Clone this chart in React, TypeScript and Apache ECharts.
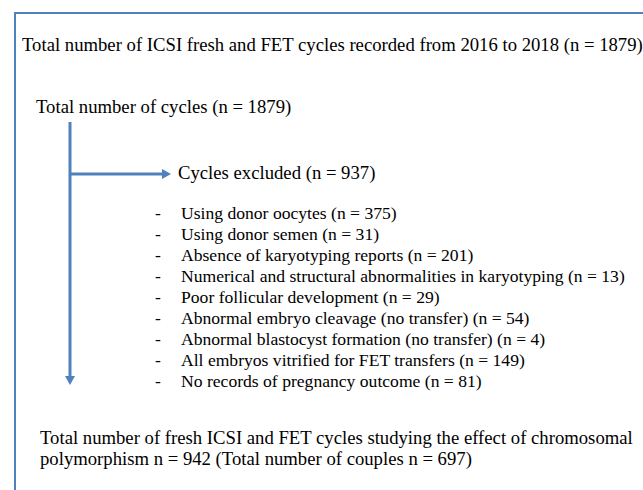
import React, { useEffect, useRef } from "react";
import * as echarts from "echarts";

const titleText = "Total number of ICSI fresh and FET cycles recorded from 2016 to 2018 (n = 1879)";
const totalText = "Total number of cycles (n = 1879)";
const excludedText = "Cycles excluded (n = 937)";
const exclusionReasons = [
  "Using donor oocytes",
  "Using donor semen",
  "Absence of karyotyping reports",
  "Numerical and structural abnormalities in karyotyping",
  "Poor follicular development",
  "Abnormal embryo cleavage (no transfer)",
  "Abnormal blastocyst formation (no transfer)",
  "All embryos vitrified for FET transfers",
  "No records of pregnancy outcome",
];
const exclusionCounts = [375, 31, 201, 13, 29, 54, 4, 149, 81];
const finalLines = [
  "Total number of fresh ICSI and FET cycles studying the effect of chromosomal",
  "polymorphism n = 942 (Total number of couples n = 697)",
];

const FONT = "'Liberation Serif', serif";
const FS_HEAD = 18.7;
const FS_LIST = 17.6;
const BLUE = "#4f81bd";

export default function App() {
  const ref = useRef<HTMLDivElement>(null);
  useEffect(() => {
    if (!ref.current) return;
    const chart = echarts.init(ref.current, undefined, { renderer: "svg" });
    const txt = (x: number, y: number, s: string, fs: number) => ({
      type: "text",
      x,
      y,
      style: { text: s, font: `${fs}px ${FONT}`, fill: "#000", textVerticalAlign: "middle", textAlign: "left" },
    });
    const elements: any[] = [
      { type: "polyline", shape: { points: [[15, 490], [15, 13], [643, 13]] }, style: { stroke: BLUE, lineWidth: 2, fill: null } },
      txt(22, 44, titleText, FS_HEAD),
      txt(36, 106, totalText, FS_HEAD),
      { type: "line", shape: { x1: 70, y1: 122, x2: 70, y2: 376 }, style: { stroke: BLUE, lineWidth: 3 } },
      { type: "polygon", shape: { points: [[65, 376], [75, 376], [70, 385]] }, style: { fill: BLUE } },
      { type: "line", shape: { x1: 70, y1: 174, x2: 162, y2: 174 }, style: { stroke: BLUE, lineWidth: 3 } },
      { type: "polygon", shape: { points: [[162, 169], [162, 179], [171, 174]] }, style: { fill: BLUE } },
      txt(178, 172, excludedText, FS_HEAD),
    ];
    exclusionReasons.forEach((r, i) => {
      const y = 213 + i * 21;
      elements.push(txt(155, y, "-", FS_LIST));
      elements.push(txt(181, y, `${r} (n = ${exclusionCounts[i]})`, FS_LIST));
    });
    finalLines.forEach((l, i) => elements.push(txt(40, 437 + i * 21, l, FS_HEAD)));
    chart.setOption({ animation: false, backgroundColor: "#fff", graphic: { elements } });
    return () => chart.dispose();
  }, []);
  return <div ref={ref} style={{ position: "fixed", left: 0, top: 0, width: 643, height: 490 }} />;
}
